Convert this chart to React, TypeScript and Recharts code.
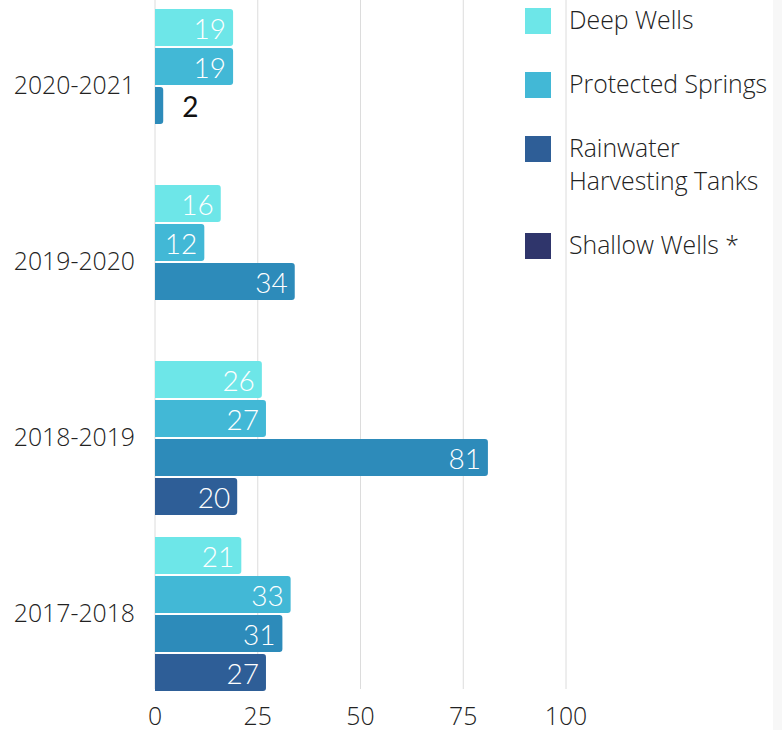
import { Bar, BarChart, CartesianGrid, LabelList, XAxis, YAxis } from 'recharts';

const periods = ['2020-2021', '2019-2020', '2018-2019', '2017-2018'];
const deepWells = [19, 16, 26, 21];
const protectedSprings = [19, 12, 27, 33];
const rainwaterTanks = [2, 34, 81, 31];
const shallowWells: (number | null)[] = [null, null, 20, 27];
const xTicks = [0, 25, 50, 75, 100];

const seriesNames = ['Deep Wells', 'Protected Springs', 'Rainwater Harvesting Tanks', 'Shallow Wells *'];
const barColors = ['#6de6e8', '#42b8d6', '#2d8bba', '#2e5e97'];
const legendColors = ['#6de6e8', '#42b8d6', '#2e5e97', '#2f356b'];

const data = periods.map((period, i) => ({
  period,
  deep: deepWells[i],
  springs: protectedSprings[i],
  rainwater: rainwaterTanks[i],
  shallow: shallowWells[i],
}));
const keys = ['deep', 'springs', 'rainwater', 'shallow'];

const tickFont = { fontFamily: '"Open Sans", sans-serif', fontSize: 24.8, fontWeight: 300, fill: '#222' };

// etiqueta de valor: dentro da barra em branco, fora em preto se a barra for curta
const renderValue = (props: any) => {
  const { value } = props;
  if (value == null) return null;
  const x = Number(props.x);
  const y = Number(props.y);
  const w = Number(props.width);
  const h = Number(props.height);
  const inside = w > 30;
  return (
    <text
      x={inside ? x + w - 7 : x + w + 19}
      y={y + h / 2}
      textAnchor={inside ? 'end' : 'start'}
      dominantBaseline="central"
      fill={inside ? '#fff' : '#111'}
      fontSize={28}
      fontWeight={inside ? 300 : 400}
      fontFamily="Lato, sans-serif"
    >
      {value}
    </text>
  );
};

export default function App() {
  return (
    <div style={{ position: 'relative', width: 782, height: 730, background: '#fff' }}>
      <style>{`body{margin:0}`}</style>
      <BarChart
        width={782}
        height={730}
        data={data}
        layout="vertical"
        margin={{ top: 0, right: 216, bottom: 0, left: 0 }}
        barCategoryGap={12}
        barGap={2}
      >
        <CartesianGrid horizontal={false} stroke="#dcdcdc" />
        <XAxis
          type="number"
          domain={[0, 100]}
          ticks={xTicks}
          axisLine={false}
          tickLine={false}
          tickMargin={12}
          height={41}
          tick={tickFont}
        />
        <YAxis
          type="category"
          dataKey="period"
          width={155}
          axisLine={false}
          tickLine={false}
          tickMargin={14}
          padding={{ top: -3, bottom: -12 }}
          tick={tickFont}
        />
        {keys.map((k, i) => (
          <Bar
            key={k}
            dataKey={k}
            name={seriesNames[i]}
            fill={barColors[i]}
            radius={[0, 3, 3, 0]}
            isAnimationActive={false}
          >
            <LabelList dataKey={k} content={renderValue} />
          </Bar>
        ))}
      </BarChart>

      <div style={{ position: 'absolute', left: 525, top: 3, width: 245 }}>
        {seriesNames.map((name, i) => (
          <div key={name} style={{ display: 'flex', alignItems: 'flex-start', marginBottom: 31 }}>
            <div
              style={{
                width: 26,
                height: 26,
                marginTop: 5,
                flex: '0 0 26px',
                background: legendColors[i],
              }}
            />
            <div
              style={{
                marginLeft: 18,
                width: 205,
                fontFamily: '"Open Sans", sans-serif',
                fontSize: 24.8,
                fontWeight: 300,
                lineHeight: '33px',
                color: '#222',
              }}
            >
              {name}
            </div>
          </div>
        ))}
      </div>

      <div style={{ position: 'absolute', left: 773, top: 0, width: 9, height: 730, background: '#f7f7f7' }} />
    </div>
  );
}
